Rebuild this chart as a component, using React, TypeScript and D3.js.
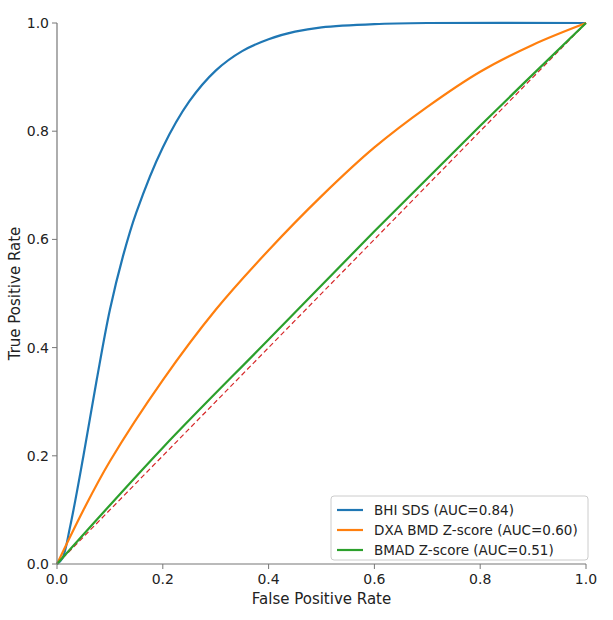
import * as d3 from "d3";

const bhiFpr = [0, 0.01, 0.025, 0.05, 0.075, 0.1, 0.125, 0.15, 0.2, 0.25, 0.3, 0.35, 0.4, 0.45, 0.5, 0.6, 0.7, 1];
const bhiTpr = [0, 0.01, 0.07, 0.2, 0.34, 0.47, 0.57, 0.65, 0.77, 0.855, 0.912, 0.948, 0.97, 0.984, 0.992, 0.998, 1, 1];
const dxaFpr = [0, 0.05, 0.1, 0.2, 0.3, 0.4, 0.5, 0.6, 0.7, 0.8, 0.9, 1];
const dxaTpr = [0, 0.1, 0.19, 0.34, 0.47, 0.58, 0.68, 0.77, 0.845, 0.91, 0.96, 1];
const bmadFpr = [0, 0.2, 0.4, 0.6, 0.8, 1];
const bmadTpr = [0, 0.215, 0.415, 0.615, 0.81, 1];
const ticks = [0, 0.2, 0.4, 0.6, 0.8, 1];

const series = [
  { name: "BHI SDS (AUC=0.84)", color: "#1f77b4", xs: bhiFpr, ys: bhiTpr },
  { name: "DXA BMD Z-score (AUC=0.60)", color: "#ff7f0e", xs: dxaFpr, ys: dxaTpr },
  { name: "BMAD Z-score (AUC=0.51)", color: "#2ca02c", xs: bmadFpr, ys: bmadTpr },
];

export default function App() {
  const x = d3.scaleLinear().domain([0, 1]).range([57, 586]);
  const y = d3.scaleLinear().domain([0, 1]).range([564, 23]);
  const line = d3.line<[number, number]>().x(d => x(d[0])).y(d => y(d[1])).curve(d3.curveCatmullRom.alpha(0.5));
  const font = "DejaVu Sans, sans-serif";
  return (
    <svg width={613} height={620} style={{ position: "absolute", left: 0, top: 0 }} fontFamily={font}>
      <rect width={613} height={620} fill="#fff" />
      <line x1={x(0)} x2={x(1)} y1={y(0)} y2={y(1)} stroke="#d62728" strokeWidth={1.2} strokeDasharray="5,3" />
      {series.map(s => (
        <path key={s.name} d={line(s.xs.map((v, i) => [v, s.ys[i]]) as [number, number][]) || ""}
          fill="none" stroke={s.color} strokeWidth={2.2} />
      ))}
      <line x1={x(0)} x2={x(0)} y1={y(0)} y2={y(1)} stroke="#777" strokeWidth={1.2} />
      <line x1={x(0)} x2={x(1)} y1={y(0)} y2={y(0)} stroke="#777" strokeWidth={1.2} />
      {ticks.map(t => (
        <g key={t}>
          <line x1={x(t)} x2={x(t)} y1={y(0)} y2={y(0) + 5} stroke="#777" />
          <text x={x(t)} y={y(0) + 20} textAnchor="middle" fontSize={14} fill="#222">{t.toFixed(1)}</text>
          <line x1={x(0) - 5} x2={x(0)} y1={y(t)} y2={y(t)} stroke="#777" />
          <text x={x(0) - 8} y={y(t) + 5} textAnchor="end" fontSize={14} fill="#222">{t.toFixed(1)}</text>
        </g>
      ))}
      <text x={(x(0) + x(1)) / 2} y={604} textAnchor="middle" fontSize={15} fill="#222">False Positive Rate</text>
      <text transform={`translate(20,${(y(0) + y(1)) / 2}) rotate(-90)`} textAnchor="middle" fontSize={15} fill="#222">True Positive Rate</text>
      <rect x={331} y={496} width={257} height={64} rx={3} fill="#fff" stroke="#ccc" />
      {series.map((s, i) => (
        <g key={s.name} transform={`translate(337,${510 + i * 20})`}>
          <line x1={0} x2={26} y1={0} y2={0} stroke={s.color} strokeWidth={2.2} />
          <text x={37} y={5} fontSize={13.5} fill="#222">{s.name}</text>
        </g>
      ))}
    </svg>
  );
}
